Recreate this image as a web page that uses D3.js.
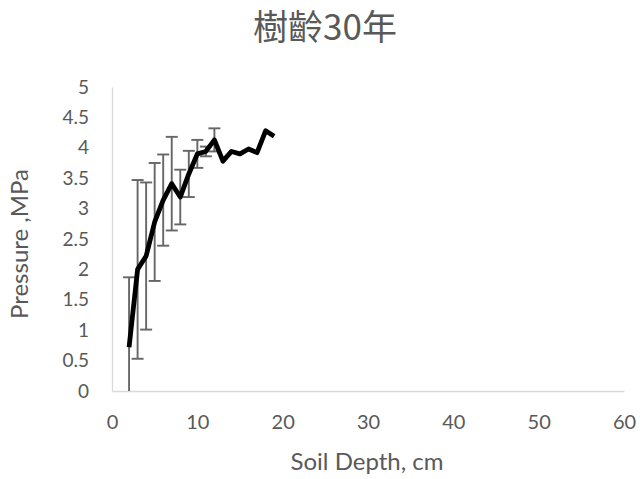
<!DOCTYPE html>
<html lang="zh-Hant">
<head>
    <meta charset="UTF-8">
    <title>樹齡30年</title>
    <script src="https://d3js.org/d3.v7.min.js"></script>
    <style>
        body {
            margin: 0;
            background: #fff;
        }
        .tick text {
            font-family: Lato, "Open Sans", sans-serif;
            fill: #595959;
        }
        .x-axis .tick text { font-size: 20px; }
        .y-axis .tick text { font-size: 19px; }
        .axis-title {
            font-family: Lato, "Open Sans", sans-serif;
            font-size: 24px;
            fill: #595959;
        }
        .chart-title {
            font-family: "Noto Sans CJK TC", "Noto Sans", sans-serif;
            font-size: 35px;
            fill: #595959;
        }
    </style>
</head>
<body>
    <svg width="640" height="479"></svg>
    <script>
        // soil depth (cm)
        const depth = [2, 3, 4, 5, 6, 7, 8, 9, 10, 11, 12, 13, 14, 15, 16, 17, 18, 19];
        // mean penetration pressure (MPa)
        const pressure = [0.72, 2.00, 2.22, 2.78, 3.14, 3.41, 3.19, 3.57, 3.90, 3.94, 4.13, 3.78, 3.94, 3.90, 3.98, 3.92, 4.28, 4.19];
        // std deviation, only the first 11 depths have error bars
        const errDepth = [2, 3, 4, 5, 6, 7, 8, 9, 10, 11, 12];
        const errSize = [1.15, 1.47, 1.21, 0.97, 0.75, 0.77, 0.45, 0.38, 0.23, 0.08, 0.19];

        const xTicks = [0, 10, 20, 30, 40, 50, 60];
        const yTicks = [0, 0.5, 1, 1.5, 2, 2.5, 3, 3.5, 4, 4.5, 5];

        const svg = d3.select("svg");
        const plotLeft = 112, plotRight = 624, plotTop = 87, plotBottom = 391;

        const x = d3.scaleLinear().domain([0, 60]).range([plotLeft, plotRight]);
        const y = d3.scaleLinear().domain([0, 5]).range([plotBottom, plotTop]);

        // axes
        const xAxis = svg.append("g")
            .attr("class", "x-axis")
            .attr("transform", `translate(0,${plotBottom})`)
            .call(d3.axisBottom(x).tickValues(xTicks).tickSize(0).tickPadding(24));
        xAxis.select(".domain").attr("stroke", "#d9d9d9").attr("stroke-width", 1.3);

        const yAxis = svg.append("g")
            .attr("class", "y-axis")
            .attr("transform", `translate(${plotLeft},0)`)
            .call(d3.axisLeft(y).tickValues(yTicks).tickSize(0).tickPadding(23)
                .tickFormat(d3.format("")));
        yAxis.select(".domain").attr("stroke", "#d9d9d9").attr("stroke-width", 1.3);

        // error bars
        const errData = errDepth.map((d, i) => {
            const m = pressure[depth.indexOf(d)];
            return { x: d, lo: m - errSize[i], hi: m + errSize[i] };
        });
        const eb = svg.append("g")
            .attr("stroke", "#666")
            .attr("stroke-width", 1.9)
            .attr("fill", "none");

        errData.forEach(d => {
            const lo = Math.max(d.lo, 0);
            eb.append("line")
                .attr("x1", x(d.x)).attr("x2", x(d.x))
                .attr("y1", y(lo)).attr("y2", y(d.hi));
            eb.append("line")
                .attr("x1", x(d.x) - 6).attr("x2", x(d.x) + 6)
                .attr("y1", y(d.hi)).attr("y2", y(d.hi));
            if (d.lo >= 0) {
                eb.append("line")
                    .attr("x1", x(d.x) - 6).attr("x2", x(d.x) + 6)
                    .attr("y1", y(d.lo)).attr("y2", y(d.lo));
            }
        });

        // mean line
        const line = d3.line()
            .x((d, i) => x(depth[i]))
            .y(d => y(d));

        svg.append("path")
            .datum(pressure)
            .attr("d", line)
            .attr("fill", "none")
            .attr("stroke", "#000")
            .attr("stroke-width", 4.8)
            .attr("stroke-linejoin", "round");

        // titles
        svg.append("text")
            .attr("class", "chart-title")
            .attr("x", 325)
            .attr("y", 40)
            .attr("text-anchor", "middle")
            .text("樹齡30年");

        svg.append("text")
            .attr("class", "axis-title")
            .attr("x", 367)
            .attr("y", 470)
            .attr("text-anchor", "middle")
            .text("Soil Depth, cm");

        svg.append("text")
            .attr("class", "axis-title")
            .attr("transform", "rotate(-90)")
            .attr("x", -244)
            .attr("y", 28)
            .attr("text-anchor", "middle")
            .text("Pressure ,MPa");
    </script>
</body>
</html>
